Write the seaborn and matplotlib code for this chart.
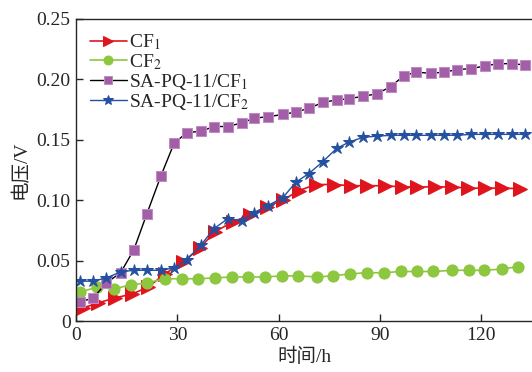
import matplotlib
matplotlib.use("Agg")
import matplotlib.pyplot as plt
import seaborn as sns

# sample times (h)
t_cf1 = [2, 6.5, 11.5, 16.6, 21.3, 26.3, 31.7, 36.7, 41.1, 46.4, 51.5, 56.5, 61.2, 66,
         71, 76.3, 81.4, 86, 91.4, 96.4, 101, 106.2, 111.2, 116, 121, 126, 131.4]
t_cf2 = [1.2, 6.2, 11.2, 16.3, 21, 26.3, 31.4, 36.1, 41.1, 46.2, 50.9, 55.9, 61, 65.7,
         71.3, 76, 81, 86.1, 91.1, 96.1, 101, 105.8, 111.3, 116.3, 120.7, 126, 130.8]
t_sa = [1.2, 5, 9, 13.2, 17.1, 21, 25.1, 29, 32.8, 37, 40.8, 44.9, 49.1, 52.8, 56.7, 61.2,
        65.1, 68.9, 73.1, 77.2, 80.8, 84.9, 89, 93.2, 97, 100.8, 105, 108.9, 112.7, 116.9,
        121, 124.8, 129, 132.8]

v_cf1 = [0.0108, 0.015, 0.0191, 0.0224, 0.028, 0.039, 0.049, 0.0606, 0.0739, 0.082, 0.088,
         0.0947, 0.100, 0.108, 0.113, 0.113, 0.112, 0.112, 0.112, 0.111, 0.111, 0.111,
         0.111, 0.110, 0.110, 0.110, 0.1096]
v_cf2 = [0.024, 0.028, 0.0266, 0.030, 0.0316, 0.035, 0.035, 0.035, 0.0357, 0.0365, 0.0365,
         0.0365, 0.0374, 0.0374, 0.0365, 0.0374, 0.039, 0.040, 0.040, 0.041, 0.041, 0.041,
         0.042, 0.042, 0.042, 0.043, 0.045]
v_sa_cf1 = [0.0158, 0.019, 0.0316, 0.040, 0.059, 0.089, 0.120, 0.147, 0.156, 0.157, 0.161,
            0.161, 0.164, 0.168, 0.169, 0.171, 0.173, 0.176, 0.181, 0.183, 0.184, 0.186,
            0.188, 0.194, 0.203, 0.206, 0.205, 0.206, 0.208, 0.209, 0.211, 0.213, 0.213, 0.212]
v_sa_cf2 = [0.033, 0.033, 0.0357, 0.0407, 0.042, 0.042, 0.042, 0.044, 0.0507, 0.063, 0.0764,
            0.0847, 0.083, 0.0897, 0.0955, 0.102, 0.115, 0.122, 0.132, 0.143, 0.148, 0.152,
            0.153, 0.1537, 0.1537, 0.1537, 0.1537, 0.1537, 0.1537, 0.1545, 0.1545, 0.1545,
            0.1545, 0.1545]

labels = ["CF$_1$", "CF$_2$", "SA-PQ-11/CF$_1$", "SA-PQ-11/CF$_2$"]
xticks = [0, 30, 60, 90, 120]
yticks = [0, 0.05, 0.10, 0.15, 0.20, 0.25]
yticklabels = ["0", "0.05", "0.10", "0.15", "0.20", "0.25"]

sns.set_style("ticks")
plt.rcParams["font.family"] = ["Liberation Serif", "Noto Sans CJK SC"]
plt.rcParams["mathtext.fontset"] = "stix"
plt.rcParams["font.size"] = 14

fig = plt.figure(figsize=(5.32, 3.72), dpi=100)
ax = fig.add_axes([0.143, 0.137, 0.857, 0.812])

red = "#e0141c"
green = "#8dc63f"
purple = "#a35ea8"
blue = "#2450a0"

sns.lineplot(x=t_cf1, y=v_cf1, ax=ax, color=red, lw=1.2, marker=">", markersize=9.5,
             markeredgecolor=red, label=labels[0])
sns.lineplot(x=t_cf2, y=v_cf2, ax=ax, color=green, lw=1.2, marker="o", markersize=8,
             markeredgecolor=green, label=labels[1])
sns.lineplot(x=t_sa, y=v_sa_cf1, ax=ax, color="black", lw=1.0, marker="s", markersize=7,
             markerfacecolor=purple, markeredgecolor="#c08cc4", label=labels[2])
sns.lineplot(x=t_sa, y=v_sa_cf2, ax=ax, color=blue, lw=1.0, marker="*", markersize=9,
             markeredgecolor=blue, label=labels[3])

ax.set_xlim(0, 135)
ax.set_ylim(0, 0.25)
ax.set_xticks(xticks)
ax.set_yticks(yticks)
ax.set_yticklabels(yticklabels)
ax.tick_params(direction="in", length=5, width=1, labelsize=14, pad=4)
ax.spines["right"].set_visible(False)
for s in ["left", "bottom", "top"]:
    ax.spines[s].set_linewidth(1.0)

ax.set_xlabel("时间/h", fontsize=14, labelpad=3)
ax.set_ylabel("电压/V", fontsize=14, labelpad=5)

ax.legend(loc="upper left", bbox_to_anchor=(0.0, 1.0), frameon=False, fontsize=14,
          labelspacing=0.0, handlelength=1.9, handletextpad=0.1, borderaxespad=0.5,
          borderpad=0.2, markerscale=0.8)

fig.savefig("out.png", dpi=100)
